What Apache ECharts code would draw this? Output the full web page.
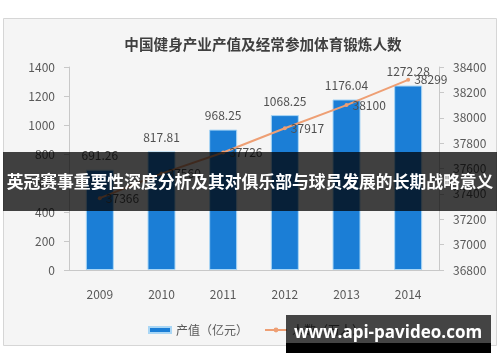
<!DOCTYPE html>
<html><head><meta charset="utf-8">
<script src="https://cdn.jsdelivr.net/npm/echarts@6/dist/echarts.min.js"></script>
<style>html,body{margin:0;padding:0;background:#fff}#c{width:500px;height:362px}</style>
</head><body><div id="c"></div>
<script>
const years = ['2009','2010','2011','2012','2013','2014'];
const outputValue = [691.26, 817.81, 968.25, 1068.25, 1176.04, 1272.28];
const people = [37366, 37560, 37726, 37917, 38100, 38299];
const chartTitle = '中国健身产业产值及经常参加体育锻炼人数';
const bannerText = '英冠赛事重要性深度分析及其对俱乐部与球员发展的长期战略意义';
const siteText = 'www.api-pavideo.com';
const legendNames = ['产值（亿元）', '人数（万人）'];

const chart = echarts.init(document.getElementById('c'));
const font = '"Noto Sans CJK SC","Noto Sans",sans-serif';
const plain = v => String(v);
chart.setOption({
  animation: false,
  textStyle: {fontFamily: font},
  title: {text: chartTitle, left: 258, top: 32, textAlign: 'center',
    textStyle: {fontSize: 14.6, fontWeight: 'bold', color: '#3f3f3f', fontFamily: font}},
  grid: {left: 69, right: 61, top: 67, bottom: 92, containLabel: false},
  legend: {left: 143, top: 319, itemGap: 16, itemWidth: 22, itemHeight: 6,
    textStyle: {fontSize: 12, color: '#595959'},
    data: [{name: legendNames[0], icon: 'rect'}, {name: legendNames[1]}]},
  xAxis: {type: 'category', data: years,
    axisLine: {lineStyle: {color: '#c8c8c8'}}, axisTick: {show: false},
    axisLabel: {color: '#595959', fontSize: 12, margin: 18}},
  yAxis: [
    {type: 'value', min: 0, max: 1400, interval: 200, splitLine: {show: false},
     axisLine: {show: true, lineStyle: {color: '#c8c8c8'}}, axisTick: {show: true, lineStyle: {color: '#c8c8c8'}},
     axisLabel: {color: '#595959', fontSize: 12, margin: 14, formatter: plain}},
    {type: 'value', min: 36800, max: 38400, interval: 200, splitLine: {show: false},
     axisLine: {show: true, lineStyle: {color: '#c8c8c8'}}, axisTick: {show: true, lineStyle: {color: '#c8c8c8'}},
     axisLabel: {color: '#595959', fontSize: 12, margin: 14, formatter: plain}}
  ],
  graphic: [
    {type: 'rect', z: -1, silent: true, shape: {x: 3.5, y: 18.5, width: 493, height: 327},
     style: {fill: '#f5f5f5', stroke: '#d6d6d6', lineWidth: 1}},
    {type: 'rect', z: 100, shape: {x: 3, y: 152, width: 494, height: 59},
     style: {fill: 'rgba(0,0,0,0.74)'}},
    {type: 'text', z: 101, x: 250, y: 182,
     style: {text: bannerText, fill: '#fff', fontSize: 16.8, fontWeight: 'bold', fontFamily: font,
       align: 'center', verticalAlign: 'middle'}},
    {type: 'rect', z: 100, shape: {x: 286, y: 315, width: 205, height: 28},
     style: {fill: 'rgba(0,0,0,0.72)'}},
    {type: 'rect', z: 100, shape: {x: 286, y: 343, width: 205, height: 10},
     style: {fill: '#000'}},
    {type: 'text', z: 101, x: 388, y: 333,
     style: {text: siteText, fill: '#fff', fontSize: 17, fontWeight: 'bold', fontFamily: '"Open Sans","DejaVu Sans",sans-serif',
       align: 'center', verticalAlign: 'middle'}}
  ],
  series: [
    {name: legendNames[0], type: 'bar', data: outputValue, barWidth: 28, yAxisIndex: 0,
     itemStyle: {color: '#1b7ed6', borderColor: '#a9d6f5', borderWidth: 1},
     label: {show: true, position: 'top', distance: 8, color: '#505050', fontSize: 12}},
    {name: legendNames[1], type: 'line', data: people, yAxisIndex: 1,
     symbol: 'circle', symbolSize: 4,
     lineStyle: {color: '#ee9f74', width: 2}, itemStyle: {color: '#ee9f74'},
     label: {show: true, position: 'right', distance: 4, color: '#505050', fontSize: 12}}
  ]
});
</script></body></html>
